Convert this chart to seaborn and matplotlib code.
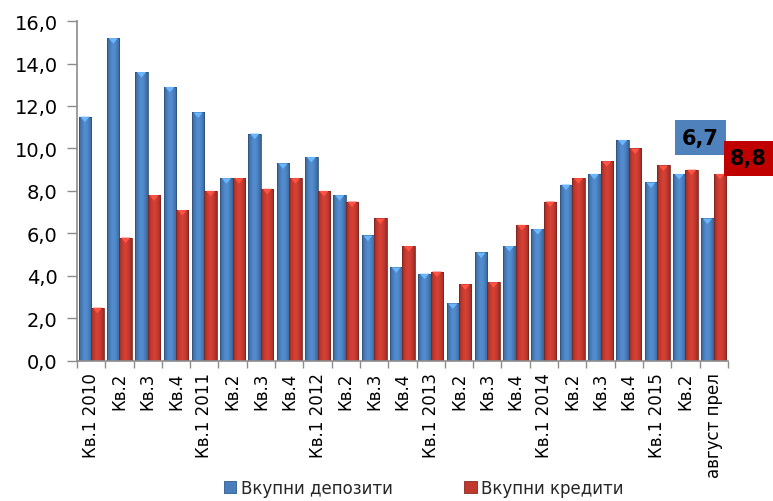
import numpy as np
import pandas as pd
import matplotlib
matplotlib.use("Agg")
import matplotlib.pyplot as plt
import matplotlib.colors as mcolors
from matplotlib.patches import Rectangle
from matplotlib.ticker import FuncFormatter, FixedLocator
import seaborn as sns

# Period labels (quarters 2010-2015 plus preliminary August figure)
periods = ["Кв.1 2010", "Кв.2", "Кв.3", "Кв.4",
           "Кв.1 2011", "Кв.2", "Кв.3", "Кв.4",
           "Кв.1 2012", "Кв.2", "Кв.3", "Кв.4",
           "Кв.1 2013", "Кв.2", "Кв.3", "Кв.4",
           "Кв.1 2014", "Кв.2", "Кв.3", "Кв.4",
           "Кв.1 2015", "Кв.2", "август прел"]

# Annual growth rates, %
deposits = [11.5, 15.2, 13.6, 12.9, 11.7, 8.6, 10.7, 9.3, 9.6, 7.8, 5.9, 4.4,
            4.1, 2.7, 5.1, 5.4, 6.2, 8.3, 8.8, 10.4, 8.4, 8.8, 6.7]
credits = [2.5, 5.8, 7.8, 7.1, 8.0, 8.6, 8.1, 8.6, 8.0, 7.5, 6.7, 5.4,
           4.2, 3.6, 3.7, 6.4, 7.5, 8.6, 9.4, 10.0, 9.2, 9.0, 8.8]

series_names = ["Вкупни депозити", "Вкупни кредити"]

BLUE = "#4a7ebb"
RED = "#c0392f"

sns.set_theme(style="white")
plt.rcParams["font.family"] = ["DejaVu Sans"]

n = len(periods)
df = pd.DataFrame({
    "idx": list(range(n)) * 2,
    "value": deposits + credits,
    "series": [series_names[0]] * n + [series_names[1]] * n,
})

fig = plt.figure(figsize=(7.73, 5.02), dpi=100)
ax = fig.add_axes([0.0996, 0.2795, 0.842, 0.6765])

sns.barplot(data=df, x="idx", y="value", hue="series", order=list(range(n)),
            hue_order=series_names, palette=[BLUE, RED], width=0.88,
            saturation=1, ax=ax, legend=False)

# Give each bar a cylindrical shading and a light notch at the top
bars = [p for p in ax.patches if isinstance(p, Rectangle) and p.get_height() > 0]
for p in bars:
    x0, y0 = p.get_x(), p.get_y()
    w, h = p.get_width(), p.get_height()
    base = np.array(mcolors.to_rgb(p.get_facecolor()))
    t = np.linspace(0, 1, 64)
    shade = 0.78 + 0.34 * (1 - np.abs(2 * t - 1) ** 1.6)
    rgb = np.clip(base[None, :] * shade[:, None], 0, 1)[None, :, :]
    im = ax.imshow(rgb, extent=[x0, x0 + w, y0, y0 + h], aspect="auto",
                   zorder=p.get_zorder(), interpolation="bilinear")
    im.set_clip_path(p)
    p.set_edgecolor(tuple(base * 0.65))
    p.set_linewidth(0.6)
    p.set_facecolor("none")
    p.set_zorder(p.get_zorder() + 0.1)
    light = tuple(np.clip(base * 1.45, 0, 1))
    tri_h = 0.26
    ax.fill([x0 + w * 0.12, x0 + w * 0.88, x0 + w * 0.5],
            [y0 + h, y0 + h, y0 + h - tri_h],
            color=light, lw=0, zorder=p.get_zorder() + 0.2)

ax.set_xlim(-0.5, n - 0.5)
ax.set_ylim(0, 16)
ax.set_yticks(np.arange(0, 16.1, 2))
ax.yaxis.set_major_formatter(FuncFormatter(lambda v, _: f"{v:.1f}".replace(".", ",")))

ax.set_xticks(range(n))
ax.set_xticklabels(periods, rotation=90, fontsize=12, color="black")
ax.xaxis.set_minor_locator(FixedLocator(np.arange(-0.5, n, 1.0)))
ax.tick_params(axis="x", which="major", length=0, pad=8)
ax.tick_params(axis="x", which="minor", length=5, width=1, color="#8c8c8c",
               direction="out", bottom=True)
ax.tick_params(axis="y", which="major", length=7, width=1, color="#8c8c8c",
               direction="out", left=True, labelsize=14, labelcolor="black", pad=7)
ax.set_xlabel("")
ax.set_ylabel("")
for side in ("top", "right"):
    ax.spines[side].set_visible(False)
for side in ("left", "bottom"):
    ax.spines[side].set_color("#8c8c8c")
    ax.spines[side].set_linewidth(1.2)
ax.grid(False)

# Legend with small square keys under the axis
handles = [Rectangle((0, 0), 1, 1, facecolor=BLUE, edgecolor="#2f5a8f", lw=0.6),
           Rectangle((0, 0), 1, 1, facecolor=RED, edgecolor="#8a2a22", lw=0.6)]
fig.legend(handles, series_names, loc="lower center", bbox_to_anchor=(0.548, -0.022),
           ncol=2, frameon=False, fontsize=12, handlelength=0.75, handleheight=0.75,
           handletextpad=0.25, columnspacing=4.3)

# Latest values highlighted in coloured boxes
def fmt(v):
    return f"{v:.1f}".replace(".", ",")

fig.patches.append(Rectangle((675 / 773, 1 - 156 / 502), 51 / 773, 35 / 502,
                             transform=fig.transFigure, facecolor="#4f81bd",
                             edgecolor="none", zorder=5))
fig.text(700.5 / 773, 1 - 138.5 / 502, fmt(deposits[-1]), ha="center", va="center",
         fontsize=15, fontweight="bold", color="black", zorder=6)
fig.patches.append(Rectangle((724 / 773, 1 - 177 / 502), 49 / 773, 35 / 502,
                             transform=fig.transFigure, facecolor="#c00000",
                             edgecolor="none", zorder=5))
fig.text(748.5 / 773, 1 - 159.5 / 502, fmt(credits[-1]), ha="center", va="center",
         fontsize=15, fontweight="bold", color="black", zorder=6)

fig.savefig("out.png", dpi=100)
